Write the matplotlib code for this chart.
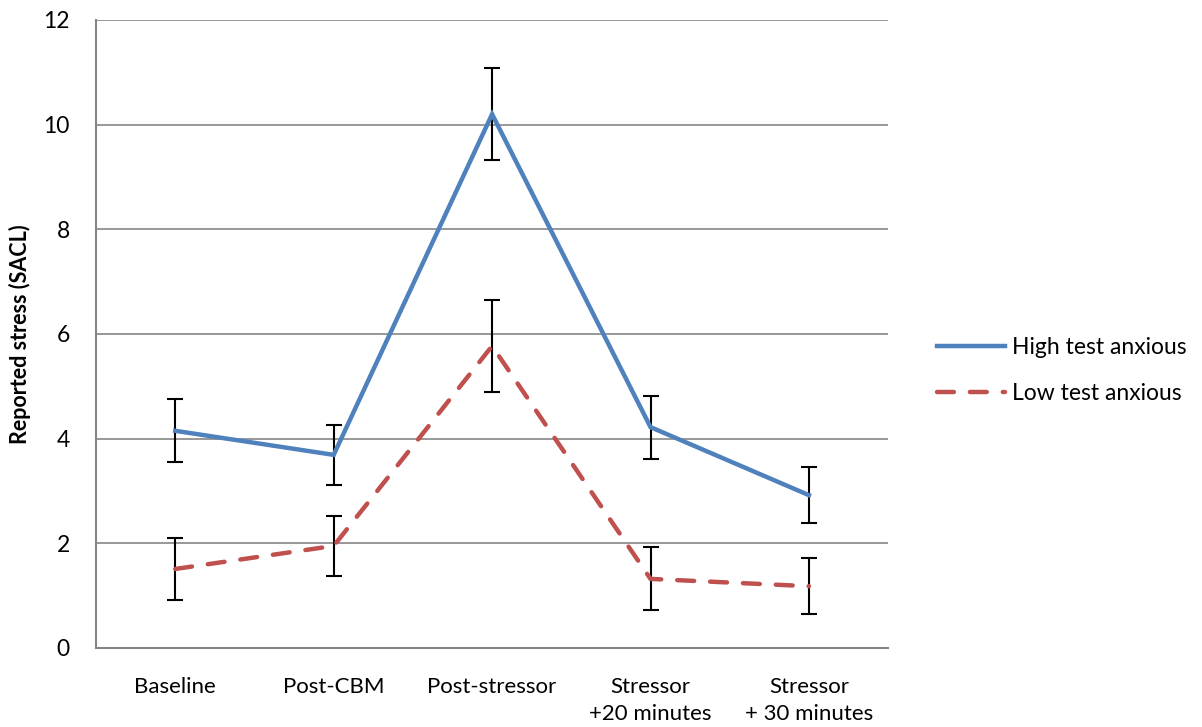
import matplotlib
matplotlib.use("Agg")
import matplotlib.pyplot as plt

# categories and values
categories = ["Baseline", "Post-CBM", "Post-stressor", "Stressor\n+20 minutes", "Stressor\n+ 30 minutes"]
high_mean = [4.15, 3.69, 10.2, 4.22, 2.92]
high_err = [0.6, 0.58, 0.88, 0.6, 0.53]
low_mean = [1.51, 1.95, 5.77, 1.32, 1.18]
low_err = [0.6, 0.57, 0.88, 0.6, 0.53]
y_ticks = [0, 2, 4, 6, 8, 10, 12]

plt.rcParams["font.family"] = ["Lato", "DejaVu Sans"]

fig = plt.figure(figsize=(12.02, 7.27), dpi=100)
ax = fig.add_axes([0.0799, 0.1087, 0.659, 0.8638])

x = list(range(len(categories)))
grid_col = "#868686"

for yv in y_ticks[1:]:
    ax.axhline(yv, color=grid_col, lw=1.2, zorder=1)

ax.errorbar(x, high_mean, yerr=high_err, fmt="none", ecolor="black",
            elinewidth=1.5, capsize=6, capthick=1.5, zorder=3)
ax.errorbar(x, low_mean, yerr=low_err, fmt="none", ecolor="black",
            elinewidth=1.5, capsize=6, capthick=1.5, zorder=3)

ax.plot(x, high_mean, color="#4F81BD", lw=3.2, solid_joinstyle="miter",
        label="High test anxious", zorder=4)
ax.plot(x, low_mean, color="#C0504D", lw=3.2, dashes=(3.8, 3.6),
        dash_capstyle="round", label="Low test anxious", zorder=4)

ax.set_xlim(-0.5, 4.5)
ax.set_ylim(0, 12)
ax.set_yticks(y_ticks)
ax.set_xticks(x)
ax.set_xticklabels(categories, fontsize=16, linespacing=1.45)
ax.tick_params(axis="y", length=0, pad=19, labelsize=16.5)
ax.tick_params(axis="x", length=0, pad=21)
for lab in ax.get_xticklabels():
    lab.set_verticalalignment("top")

for s in ["top", "right"]:
    ax.spines[s].set_visible(False)
for s in ["left", "bottom"]:
    ax.spines[s].set_color(grid_col)
    ax.spines[s].set_linewidth(1.5)

ax.set_ylabel("Reported stress (SACL)", fontsize=15.5, fontweight="bold", labelpad=9)

leg = fig.legend(loc="center left", bbox_to_anchor=(0.762, 0.49), frameon=False,
                 fontsize=16.5, handlelength=3.0, handletextpad=0.3, labelspacing=1.1)

fig.savefig("out.png", dpi=100)
